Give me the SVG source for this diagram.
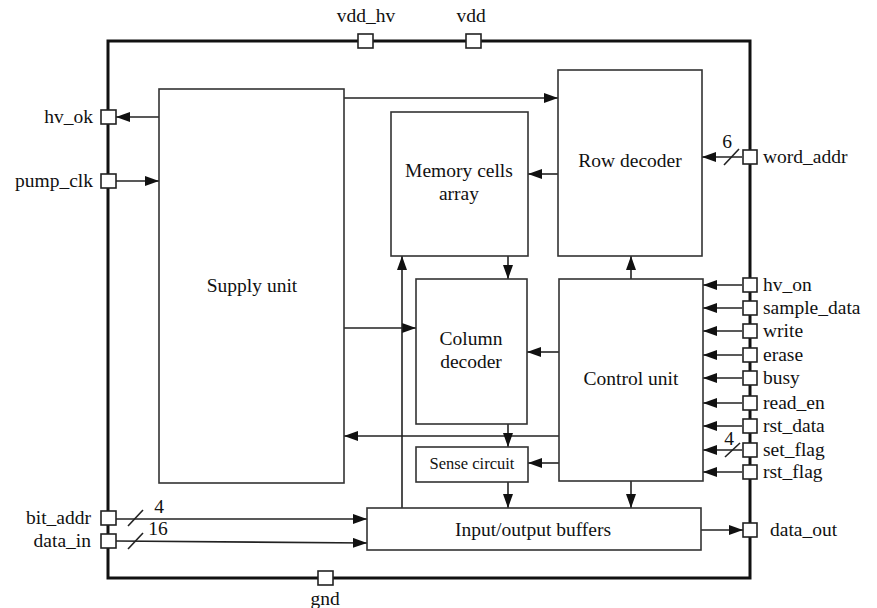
<svg xmlns="http://www.w3.org/2000/svg" width="877" height="608" viewBox="0 0 877 608" font-family="'Liberation Serif', 'DejaVu Serif', serif">
<defs>
<marker id="ah" viewBox="0 0 14 10" refX="14" refY="5" markerWidth="14" markerHeight="10" markerUnits="userSpaceOnUse" orient="auto">
<path d="M0,0 L14,5 L0,10 Z" fill="#111"/>
</marker>
</defs>
<style>
text{font-family:'Liberation Serif','DejaVu Serif',serif;fill:#111;font-size:19.5px}
.box{fill:#fff;stroke:#333;stroke-width:1.6}
.frame{fill:none;stroke:#111;stroke-width:3}
.port{fill:#fff;stroke:#222;stroke-width:1.6}
.c{fill:none;stroke:#222;stroke-width:1.6}
.a{fill:none;stroke:#222;stroke-width:1.6;marker-end:url(#ah)}
.m{text-anchor:middle}
.e{text-anchor:end}
.s{font-size:16.5px}
</style>
<rect class="frame" x="108" y="41" width="642" height="537"/>
<g id="connectors">
<line class="a" x1="159" y1="117" x2="116" y2="117"/>
<line class="a" x1="116" y1="181" x2="159" y2="181"/>
<polyline class="a" points="344,98 558,98"/>
<line class="a" x1="558" y1="174" x2="528" y2="174"/>
<line class="a" x1="742" y1="157" x2="702" y2="157"/>
<line class="c" x1="724" y1="165" x2="739" y2="149"/>
<line class="a" x1="344" y1="328" x2="416" y2="328"/>
<line class="a" x1="402" y1="508" x2="402" y2="256"/>
<line class="a" x1="508" y1="256" x2="508" y2="279"/>
<line class="a" x1="631" y1="279" x2="631" y2="256"/>
<line class="a" x1="559" y1="352" x2="527" y2="352"/>
<line class="a" x1="559" y1="436" x2="344" y2="436"/>
<line class="a" x1="508" y1="424" x2="508" y2="447"/>
<line class="a" x1="559" y1="463" x2="528" y2="463"/>
<line class="a" x1="508" y1="482" x2="508" y2="508"/>
<line class="a" x1="631" y1="481" x2="631" y2="508"/>
<line class="a" x1="701" y1="530" x2="743" y2="530"/>
<line class="a" x1="116" y1="519" x2="367" y2="519"/>
<line class="a" x1="116" y1="541" x2="367" y2="543"/>
<line class="c" x1="128" y1="526" x2="143" y2="510"/>
<line class="c" x1="128" y1="549" x2="143" y2="533"/>
<line class="a" x1="742" y1="285" x2="703" y2="285"/>
<line class="a" x1="742" y1="308" x2="703" y2="308"/>
<line class="a" x1="742" y1="331" x2="703" y2="331"/>
<line class="a" x1="742" y1="355" x2="703" y2="355"/>
<line class="a" x1="742" y1="378" x2="703" y2="378"/>
<line class="a" x1="742" y1="403" x2="703" y2="403"/>
<line class="a" x1="742" y1="426" x2="703" y2="426"/>
<line class="a" x1="742" y1="450" x2="703" y2="450"/>
<line class="c" x1="725" y1="457" x2="740" y2="443"/>
<line class="a" x1="742" y1="472" x2="703" y2="472"/>
</g>
<g id="supply"><rect class="box" x="159" y="89" width="185" height="394"/><text class="m" x="252" y="292">Supply unit</text></g>
<g id="memory"><rect class="box" x="391" y="112" width="137" height="144"/><text class="m" x="459" y="177">Memory cells</text><text class="m" x="459" y="200">array</text></g>
<g id="rowdec"><rect class="box" x="558" y="70" width="144" height="186"/><text class="m" x="630" y="167">Row decoder</text></g>
<g id="coldec"><rect class="box" x="416" y="279" width="111" height="145"/><text class="m" x="471" y="345">Column</text><text class="m" x="471" y="368">decoder</text></g>
<g id="control"><rect class="box" x="559" y="279" width="144" height="202"/><text class="m" x="631" y="385">Control unit</text></g>
<g id="sense"><rect class="box" x="416" y="447" width="112" height="35"/><text class="m s" x="472" y="469">Sense circuit</text></g>
<g id="iobuf"><rect class="box" x="367" y="508" width="334" height="42"/><text class="m" x="533" y="536">Input/output buffers</text></g>
<g id="ports">
<rect class="port" x="101" y="110" width="15" height="14"/><text class="e" x="93" y="123">hv_ok</text>
<rect class="port" x="101" y="174" width="15" height="14"/><text class="e" x="93" y="187">pump_clk</text>
<rect class="port" x="101" y="511" width="15" height="14"/><text class="e" x="91" y="524">bit_addr</text>
<rect class="port" x="101" y="534" width="15" height="14"/><text class="e" x="91" y="547">data_in</text>
<text class="m" x="159" y="513">4</text>
<text class="m" x="158" y="535">16</text>
<rect class="port" x="358" y="34" width="15" height="14"/><text class="m" x="366" y="22">vdd_hv</text>
<rect class="port" x="466" y="34" width="15" height="14"/><text class="m" x="471" y="22">vdd</text>
<rect class="port" x="318" y="571" width="15" height="14"/><text class="m" x="325" y="605">gnd</text>
<rect class="port" x="743" y="150" width="14" height="14"/><text x="763" y="163">word_addr</text>
<text class="m" x="727" y="148">6</text>
<rect class="port" x="743" y="278" width="14" height="14"/><text x="763" y="291">hv_on</text>
<rect class="port" x="743" y="301" width="14" height="14"/><text x="763" y="314">sample_data</text>
<rect class="port" x="743" y="324" width="14" height="14"/><text x="763" y="337">write</text>
<rect class="port" x="743" y="348" width="14" height="14"/><text x="763" y="361">erase</text>
<rect class="port" x="743" y="371" width="14" height="14"/><text x="763" y="384">busy</text>
<rect class="port" x="743" y="396" width="14" height="14"/><text x="763" y="409">read_en</text>
<rect class="port" x="743" y="419" width="14" height="14"/><text x="763" y="432">rst_data</text>
<rect class="port" x="743" y="443" width="14" height="14"/><text x="763" y="456">set_flag</text>
<text class="m" x="729" y="445">4</text>
<rect class="port" x="743" y="465" width="14" height="14"/><text x="763" y="478">rst_flag</text>
<rect class="port" x="743" y="523" width="14" height="14"/><text x="770" y="536">data_out</text>
</g>
</svg>
